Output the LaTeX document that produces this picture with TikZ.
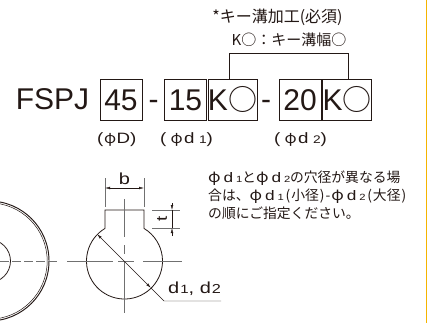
\documentclass[tikz,border=0pt]{standalone}
\usepackage{fontspec}
\setmainfont{Noto Sans CJK JP}
\newfontfamily\latf{Liberation Sans}
\newfontfamily\latw{Liberation Sans}[FakeStretch=1.25]
\newfontfamily\phif{Noto Sans CJK JP}[FakeStretch=1.1]
\usetikzlibrary{arrows.meta}
\definecolor{ink}{HTML}{231815}
\definecolor{cline}{HTML}{707070}
\definecolor{barc}{HTML}{F5B400}
\newcommand\phiglyph[1]{{\phif\fontsize{#1}{#1}\selectfont φ}}
\newcommand\phd[1]{\makebox[15.5pt][l]{\phiglyph{15}}\makebox[12.5pt][l]{\latw d}\makebox[6pt][l]{\latw\fontsize{9}{9}\selectfont #1}}
\newcommand\kcirc{K{\rmfamily\fontsize{29}{29}\selectfont ○}}
\begin{document}
\begin{tikzpicture}[x=1pt,y=-1pt,
  codebox/.style={draw=ink, line width=0.8pt, minimum height=41pt, inner sep=0pt,
    text height=21.5pt, text depth=0pt, font=\latf\fontsize{30}{30}\selectfont, text=ink},
  bigtxt/.style={anchor=base, inner sep=0pt, text=ink, font=\latf\fontsize{30}{30}\selectfont},
  lbl/.style={anchor=base west, inner sep=0pt, text=ink, font=\latw\fontsize{15}{15}\selectfont},
  notetxt/.style={anchor=base west, inner sep=0pt, text=ink, font=\fontsize{13.8}{18}\selectfont},
  toptxt/.style={anchor=base, inner sep=0pt, text=ink},
  outline/.style={draw=ink, line width=0.8pt},
  cenline/.style={draw=cline, line width=0.5pt},
  extl/.style={draw=cline, line width=0.45pt},
  dimline/.style={draw=ink, line width=0.45pt},
  tipend/.style={-{Latex[length=5pt,width=2.6pt]}},
  bothtips/.style={{Latex[length=5pt,width=2.6pt]}-{Latex[length=5pt,width=2.6pt]}},
  bracketline/.style={draw=ink, line width=0.6pt}
]
\useasboundingbox (0,0) rectangle (430,323);
\clip (0,0) rectangle (430,323);
\fill[white] (0,0) rectangle (430,323);

% code line
\node[bigtxt] (fspj) at (52.5,110) {FSPJ};
\node[codebox, minimum width=42pt] (b45) at (121,100) {45};
\node[bigtxt] (h1) at (153.5,110) {-};
\node[codebox, minimum width=42pt] (b15) at (185.5,100) {15};
\node[codebox, minimum width=47pt] (bk1) at (232.5,100) {\kcirc};
\node[bigtxt] (h2) at (266,110) {-};
\node[codebox, minimum width=42pt] (b20) at (300,100) {20};
\node[codebox, minimum width=46pt] (bk2) at (347,100) {\kcirc};

% bracket and key note
\coordinate (brk) at (0,53);
\draw[bracketline] ([xshift=-3.5pt]bk1.north) -- ([xshift=-3.5pt]bk1.north |- brk)
  -- ([xshift=1pt]bk2.north |- brk) -- ([xshift=1pt]bk2.north);
\node[toptxt, font=\fontsize{16}{16}\selectfont] (key1) at (277.5,22.5) {*キー溝加工(必須)};
\node[toptxt, font=\fontsize{15}{15}\selectfont] (key2) at (289,45.5) {K○：キー溝幅○};

% labels under boxes
\node[lbl] (lD) at (97,143) {\makebox[6.5pt][l]{(}\makebox[13pt][c]{\phiglyph{14.5}}\makebox[13.5pt][l]{D}\makebox[6pt][l]{)}};
\node[lbl] (ld1) at (160,143) {\makebox[9pt][l]{(}\makebox[15pt][c]{\phiglyph{14.5}}\makebox[15pt][l]{d}\makebox[7.5pt][l]{\fontsize{11}{11}\selectfont 1}\makebox[5pt][l]{)}};
\node[lbl] (ld2) at (274,143) {\makebox[9pt][l]{(}\makebox[15pt][c]{\phiglyph{14.5}}\makebox[15pt][l]{d}\makebox[7.5pt][l]{\fontsize{11}{11}\selectfont 2}\makebox[5pt][l]{)}};

% note text
\node[notetxt] (n1) at (208,182.5) {\phd{1}と\phd{2}の穴径が異なる場};
\node[notetxt] (n2) at (208,200.5) {合は、\phd{1}\hspace{2pt}(\hspace{1pt}小径\hspace{1pt})\hspace{1pt}-\hspace{1pt}\phd{2}\hspace{2pt}(\hspace{1pt}大径\hspace{1pt})};
\node[notetxt] (n3) at (208,218.5) {の順にご指定ください。};

% left flange (cut off)
\draw[outline, line width=0.95pt] (-11,261) circle[radius=60];
\draw[outline, line width=0.5pt] (-11,261) circle[radius=58.2];
\draw[outline, line width=0.75pt] (-11,261) circle[radius=21.5];
\draw[cenline, dash pattern=on 8.5pt off 3.5pt] (0,261.5) -- (58,261.5);

% keyway bore
\draw[outline, line join=miter] (105,210) -- (105,228.4)
  arc[start angle=-120.87, end angle=-419.13, radius=38] -- (144,210) -- cycle;
% centre lines
\draw[cenline] (67,261.5) -- (113,261.5);
\draw[cenline] (118,261.5) -- (134,261.5);
\draw[cenline] (143,261.5) -- (182,261.5);
\draw[cenline] (124,199) -- (124,237);
\draw[cenline] (124,245) -- (124,254);
\draw[cenline] (124,262) -- (124,313);

% b dimension
\draw[extl] (105,178) -- (105,207);
\draw[extl] (144,178) -- (144,207);
\draw[dimline, bothtips] (105,188) -- (144,188);
\node[anchor=base, inner sep=0pt, text=ink, font=\latw\fontsize{16}{16}\selectfont] (bl) at (124.5,184) {b};

% t dimension
\draw[extl] (152,210) -- (180,210);
\draw[extl] (152,228) -- (180,228);
\draw[dimline, tipend] (172,203) -- (172,210);
\draw[dimline, tipend] (172,236) -- (172,228);
\draw[dimline] (172,210) -- (172,228);
\node[inner sep=0pt, text=ink, font=\latw\fontsize{15}{15}\selectfont, rotate=90] (tl) at (162,219) {t};

% diameter
\coordinate (dul) at (97.1,234.1);
\coordinate (dlr) at (150.9,287.9);
\coordinate (dbend) at (164,301);
\coordinate (dend) at (221,301);
\draw[dimline, bothtips] (dul) -- (dlr);
\draw[dimline] (dlr) -- (dbend) -- (dend);
\node[anchor=base west, inner sep=0pt, text=ink, font=\latw\fontsize{16}{16}\selectfont] (dl) at (168,293)
  {d\hspace{1pt}{\fontsize{12}{12}\selectfont 1}, d\hspace{1pt}{\fontsize{13}{13}\selectfont 2}};

% yellow side bar
\fill[barc] (425.5,0) rectangle (427.2,323);
\end{tikzpicture}
\end{document}
